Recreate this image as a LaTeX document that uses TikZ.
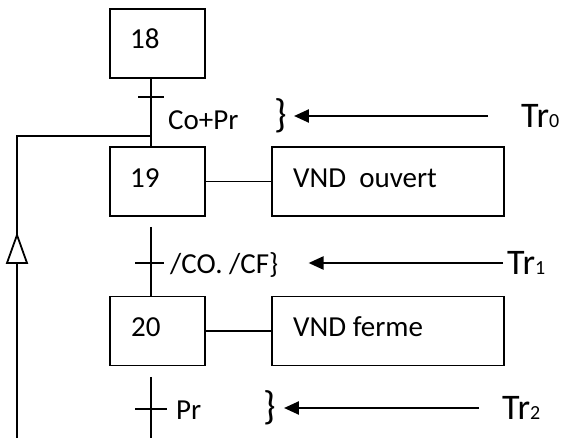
\documentclass[tikz,border=0pt]{standalone}
\usepackage{fontspec}
\setmainfont{Carlito}
\usetikzlibrary{arrows.meta}
\begin{document}
\begin{tikzpicture}[x=1pt,y={(0pt,-1pt)},
  stepbox/.style={draw, line width=1.8pt, minimum width=95pt, minimum height=69pt, inner sep=0pt},
  actbox/.style={draw, line width=1.8pt, minimum width=232pt, minimum height=69pt, inner sep=0pt},
  txt/.style={font=\fontsize{29}{31}\selectfont, inner sep=0pt, anchor=west},
  brace/.style={font=\fontsize{40}{40}\selectfont, inner sep=0pt, anchor=west},
  ln/.style={line width=1.8pt},
  arr/.style={line width=2.4pt, -{Triangle[length=15pt,width=13pt]}},
  trtxt/.style={inner sep=0pt, anchor=west}]
\useasboundingbox (0,0) rectangle (566,438);

% steps
\node[stepbox] (s18) at (157.5,43.5) {};
\node[txt] (t18) at (130,39) {18};
\node[stepbox] (s19) at (157.5,181.5) {};
\node[txt] (t19) at (130,178) {19};
\node[actbox] (a19) at (388,181.5) {};
\node[txt] (ta19) at (293,178) {VND\ \ ouvert};
\node[stepbox] (s20) at (157.5,331) {};
\node[txt] (t20) at (131,327) {20};
\node[actbox] (a20) at (388,331) {};
\node[txt] (ta20) at (293,327) {VND ferme};

\draw[ln] (s19.east) -- (s19.east -| a19.west);
\draw[ln] (s20.east) -- (s20.east -| a20.west);

% transition 0
\draw[ln] ([xshift=-6.5pt]s18.south) -- ([xshift=-6.5pt]s19.north);
\draw[ln] (138,97) -- (164,97);
\node[txt] (c0) at (168,120) {Co+Pr};
\node[brace] (b0) at (274,116) {\}};
\node[trtxt] (tr0) at (521,116) {\fontsize{36}{36}\selectfont Tr\fontsize{20}{20}\selectfont 0};
\draw[arr, shorten <=33pt, shorten >=7pt] (tr0.west) -- (tr0.west -| b0.east);

% return line
\coordinate (j0) at (151,136);
\coordinate (r0) at (17,438);
\draw[ln] (r0) |- (j0);
\draw[ln, fill=white] (17,235) -- (27,263) -- (7,263) -- cycle;

% transition 1
\coordinate (u1) at (151,227);
\draw[ln] (u1) -- (u1 |- s20.north);
\draw[ln] (135,263) -- (164,263);
\node[txt] (c1) at (170,265) {/CO. /CF\}};
\node[trtxt] (tr1) at (507,263) {\fontsize{36}{36}\selectfont Tr\fontsize{20}{20}\selectfont 1};
\draw[arr, shorten <=4pt, shorten >=30pt] (tr1.west) -- (tr1.west -| c1.east);

% transition 2
\coordinate (u2) at (151,377);
\coordinate (d2) at (151,438);
\draw[ln] (u2) -- (d2);
\draw[ln] (135,409) -- (167,409);
\node[txt] (c2) at (176,410) {Pr};
\node[brace] (b2) at (263,408) {\}};
\node[trtxt] (tr2) at (502,408) {\fontsize{36}{36}\selectfont Tr\fontsize{20}{20}\selectfont 2};
\draw[arr, shorten <=23pt, shorten >=8pt] (tr2.west) -- (tr2.west -| b2.east);
\end{tikzpicture}
\end{document}
